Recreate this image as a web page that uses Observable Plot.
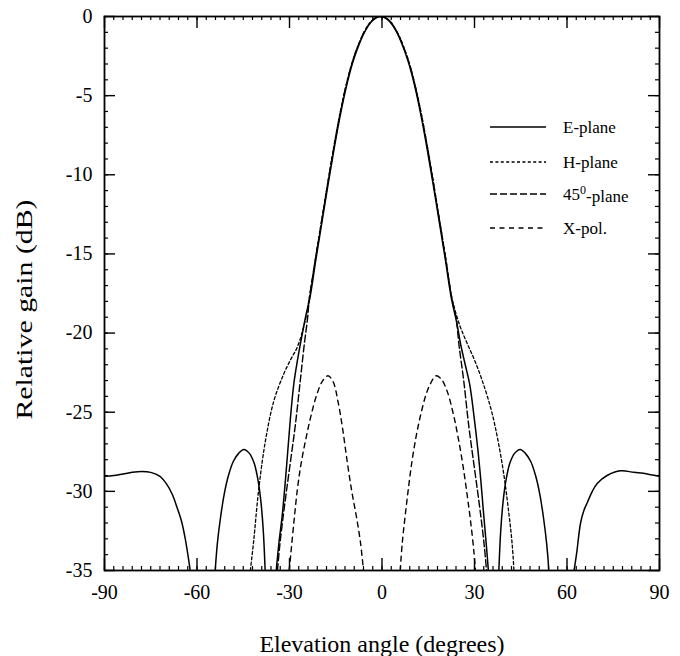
<!DOCTYPE html>
<html><head><meta charset="utf-8">
<script src="https://cdn.jsdelivr.net/npm/d3@7"></script>
<script src="https://cdn.jsdelivr.net/npm/@observablehq/plot@0.6"></script>
<style>
body{margin:0;background:#fff;}
#wrap{position:relative;width:680px;height:656px;}
#wrap svg, #wrap svg text{font-family:"Liberation Serif","Times New Roman",serif !important;}
#legend{position:absolute;left:0;top:0;pointer-events:none;}
</style></head><body><div id="wrap"></div>
<script>
// ---- data ----
const seriesNames = ["E-plane", "H-plane", "45-plane", "X-pol."];

// E-plane (null separates segments below the -35 dB floor)
const eAngle = [
  -90,-87,-84,-81,-78,-75,-72,-70,-68,-66.5,-65,-63.8,-62.8,-62.2, null,
  -54.1,-53.4,-52.4,-51.2,-49.8,-48.2,-46.5,-44.8,-43,-41.5,-40.3,-39.3,-38.5,-37.9, null,
  -34.3,-33.4,-32.4,-31.5,-30.7,-29.8,-28.6,-27.4,-26.0,-24.6,-23.4,-21.4,-19.4,-17.4,-15.4,-13.4,-11.4,-9.4,-7.4,-5.4,-3.4,-1.9,-0.5,
  1.0,2.5,4.5,6.5,8.5,10.5,12.5,14.5,16.5,18.5,20.5,22.5,24.2,25.6,27.0,28.5,29.8,31.0,32.0,32.9,33.8,34.5, null,
  37.9,38.5,39.3,40.3,41.5,43,44.8,46.5,48.2,49.8,51.2,52.4,53.4,54.1, null,
  62.3,63.2,64.4,65.5,66.6,68.2,69.8,73,77.4,81.7,86,90
];
const eGain = [
  -29.05,-29.0,-28.9,-28.8,-28.75,-28.8,-29.05,-29.5,-30.2,-31.0,-31.9,-33.0,-34.2,-35, null,
  -35,-33.3,-31.7,-30.2,-29.0,-28.1,-27.6,-27.35,-27.6,-28.2,-29.2,-30.6,-32.5,-35, null,
  -35,-33.2,-31.6,-29.7,-27.8,-25.6,-23.2,-21.7,-20.2,-18.8,-17.8,-15.3,-12.9,-10.5,-8.2,-6.1,-4.3,-2.85,-1.75,-0.9,-0.32,-0.08,0,
  -0.08,-0.32,-0.9,-1.75,-2.85,-4.3,-6.1,-8.2,-10.5,-12.9,-15.3,-17.8,-19.3,-20.8,-22.0,-23.3,-25.2,-27.2,-29.2,-31.3,-33.3,-35, null,
  -35,-32.5,-30.6,-29.2,-28.2,-27.6,-27.35,-27.6,-28.1,-29.0,-30.2,-31.7,-33.3,-35, null,
  -35,-33.8,-32.0,-31.2,-30.7,-30.0,-29.5,-29.0,-28.7,-28.8,-28.9,-29.05
];

// H-plane
const hAngle = [
  -42.7,-41.6,-40.0,-37.8,-35.1,-31.9,-29.7,-27.5,-25.0,-23.6,-21.6,-19.6,-17.6,-15.6,-13.6,-11.6,-9.6,-7.6,-5.6,-3.6,-2.0,-0.5,
  1.1,2.7,4.7,6.7,8.7,10.7,12.7,14.7,16.7,18.7,20.7,22.7,25.2,27.5,30.0,32.5,35.75,39.0,41.15,42.2,42.8
];
const hGain = [
  -35,-33.1,-29.9,-26.8,-24.3,-22.6,-21.7,-20.9,-19.3,-17.8,-15.3,-12.9,-10.5,-8.2,-6.1,-4.3,-2.85,-1.75,-0.9,-0.32,-0.08,0,
  -0.08,-0.32,-0.9,-1.75,-2.85,-4.3,-6.1,-8.2,-10.5,-12.9,-15.3,-17.8,-19.5,-20.6,-21.7,-23.0,-25.1,-28.3,-31.4,-33.3,-35
];

// 45-degree plane
const dAngle = [
  -33.9,-33.2,-32.2,-31.0,-29.6,-28.1,-26.5,-25.2,-24.1,-23.55,-21.55,-19.55,-17.55,-15.55,-13.55,-11.55,-9.55,-7.55,-5.55,-3.55,-2.0,-0.5,
  1.1,2.65,4.65,6.65,8.65,10.65,12.65,14.65,16.65,18.65,20.65,22.65,24.0,25.0,26.5,28.1,29.6,31.0,32.2,33.2,33.9
];
const dGain = [
  -35,-33.5,-31.8,-30.0,-28.0,-25.8,-23.0,-20.7,-19.0,-17.8,-15.3,-12.9,-10.5,-8.2,-6.1,-4.3,-2.85,-1.75,-0.9,-0.32,-0.08,0,
  -0.08,-0.32,-0.9,-1.75,-2.85,-4.3,-6.1,-8.2,-10.5,-12.9,-15.3,-17.8,-19.0,-20.8,-23.0,-25.8,-28.0,-30.0,-31.8,-33.5,-35
];

// cross-polar
const xAngle = [
  -30.1,-29.6,-28.5,-27.4,-26.2,-24.6,-23.0,-21.0,-19.2,-17.5,-15.8,-14.3,-12.8,-11.3,-9.8,-8.3,-7.0,-6.0, null,
  5.9,6.6,7.6,8.7,9.8,11.1,12.5,14.1,15.7,17.5,19.2,21.0,23.0,24.6,26.2,27.6,28.8,29.8,30.3
];
const xGain = [
  -35,-34.0,-31.8,-29.8,-28.2,-26.6,-25.2,-23.8,-23.0,-22.7,-23.1,-24.3,-26.0,-28.1,-30.0,-31.6,-33.2,-35, null,
  -35,-33.2,-31.4,-29.6,-28.0,-26.5,-25.2,-24.0,-23.2,-22.7,-22.9,-23.6,-25.0,-26.5,-28.3,-30.2,-32.0,-33.8,-35
];

// axis ticks
const xTickLabels = [-90, -60, -30, 0, 30, 60, 90];
const yTickLabels = [0, -5, -10, -15, -20, -25, -30, -35];
const xMinorTicks = d3.range(-90, 91, 3);
const yMinorTicks = d3.range(-35, 1, 1);
const xTitle = "Elevation angle (degrees)";
const yTitle = "Relative gain (dB)";

// ---- build ----
const angles = [eAngle, hAngle, dAngle, xAngle];
const gains = [eGain, hGain, dGain, xGain];
const dashes = [null, "3,2.4", "7,3", "5,4.5"];
const widths = [1.5, 1.3, 1.4, 1.4];

const rows = [];
seriesNames.forEach((s, k) => {
  angles[k].forEach((a, i) => rows.push({series: s, angle: a, gain: gains[k][i]}));
});

const W = 680, H = 656, mL = 104, mR = 21, mT = 16, mB = 86;
const pw = W - mL - mR, ph = H - mT - mB;
const font = "Liberation Serif";

const lineMarks = seriesNames.map((s, k) =>
  Plot.line(rows.filter(r => r.series === s), {
    x: "angle", y: "gain", stroke: "black", strokeWidth: widths[k],
    strokeDasharray: dashes[k], curve: "catmull-rom", clip: true
  })
);

const chart = Plot.plot({
  width: W, height: H,
  marginLeft: mL, marginRight: mR, marginTop: mT, marginBottom: mB,
  style: {fontFamily: "'Liberation Serif', serif", fontSize: "20px", background: "white", color: "black"},
  x: {domain: [-90, 90]},
  y: {domain: [-35, 0]},
  marks: [
    ...lineMarks,
    // minor ticks (inward) on all four sides
    Plot.tickX(xMinorTicks, {x: d => d, insetTop: ph - 4, stroke: "black", strokeWidth: 1.2}),
    Plot.tickX(xMinorTicks, {x: d => d, insetBottom: ph - 4, stroke: "black", strokeWidth: 1.2}),
    Plot.tickY(yMinorTicks, {y: d => d, insetRight: pw - 4, stroke: "black", strokeWidth: 1.2}),
    Plot.tickY(yMinorTicks, {y: d => d, insetLeft: pw - 4, stroke: "black", strokeWidth: 1.2}),
    // major ticks
    Plot.tickX(xTickLabels, {x: d => d, insetTop: ph - 12, stroke: "black", strokeWidth: 1.4}),
    Plot.tickX(xTickLabels, {x: d => d, insetBottom: ph - 12, stroke: "black", strokeWidth: 1.4}),
    Plot.tickY(yTickLabels, {y: d => d, insetRight: pw - 11, stroke: "black", strokeWidth: 1.4}),
    Plot.tickY(yTickLabels, {y: d => d, insetLeft: pw - 11, stroke: "black", strokeWidth: 1.4}),
    Plot.frame({stroke: "black", strokeWidth: 1.8}),
    Plot.axisX({ticks: xTickLabels, tickSize: 0, tickPadding: 14, tickFormat: d => String(d), fontSize: 20, fontFamily: font, label: null}),
    Plot.axisY({ticks: yTickLabels, tickSize: 0, tickPadding: 12, tickFormat: d => String(d), fontSize: 20, fontFamily: font, label: null}),
    Plot.text([xTitle], {frameAnchor: "bottom", dy: 81, fontSize: 24, fontFamily: font, fill: "black"}),
    Plot.text([yTitle], {frameAnchor: "left", dx: -80, dy: 16, rotate: -90, fontSize: 24, fontFamily: font, fill: "black"})
  ]
});

// the y title in the reference is drawn longer along its length; keep it centred
const yLen = 220;
d3.select(chart).selectAll("text").filter(function() { return this.textContent === yTitle; })
  .attr("text-anchor", "start").attr("x", -yLen / 2)
  .attr("textLength", yLen).attr("lengthAdjust", "spacingAndGlyphs");

const wrap = document.getElementById("wrap");
wrap.appendChild(chart);

// legend overlay
const legendRowsY = [127, 162, 194, 228];
const svg = d3.select(wrap).append("svg").attr("id", "legend").attr("width", W).attr("height", H);
seriesNames.forEach((s, k) => {
  const y = legendRowsY[k];
  svg.append("line").attr("x1", 490).attr("x2", 546).attr("y1", y).attr("y2", y)
    .attr("stroke", "black").attr("stroke-width", widths[k])
    .attr("stroke-dasharray", dashes[k]);
  const t = svg.append("text").attr("x", 563).attr("y", y).attr("dy", "0.33em")
    .attr("font-family", font).attr("font-size", 17).attr("fill", "black");
  if (s === "45-plane") {
    t.append("tspan").text("45");
    t.append("tspan").attr("dy", "-0.45em").attr("font-size", 12).text("0");
    t.append("tspan").attr("dy", "0.45em").text("-plane");
  } else {
    t.text(s);
  }
});
</script>
</body></html>
